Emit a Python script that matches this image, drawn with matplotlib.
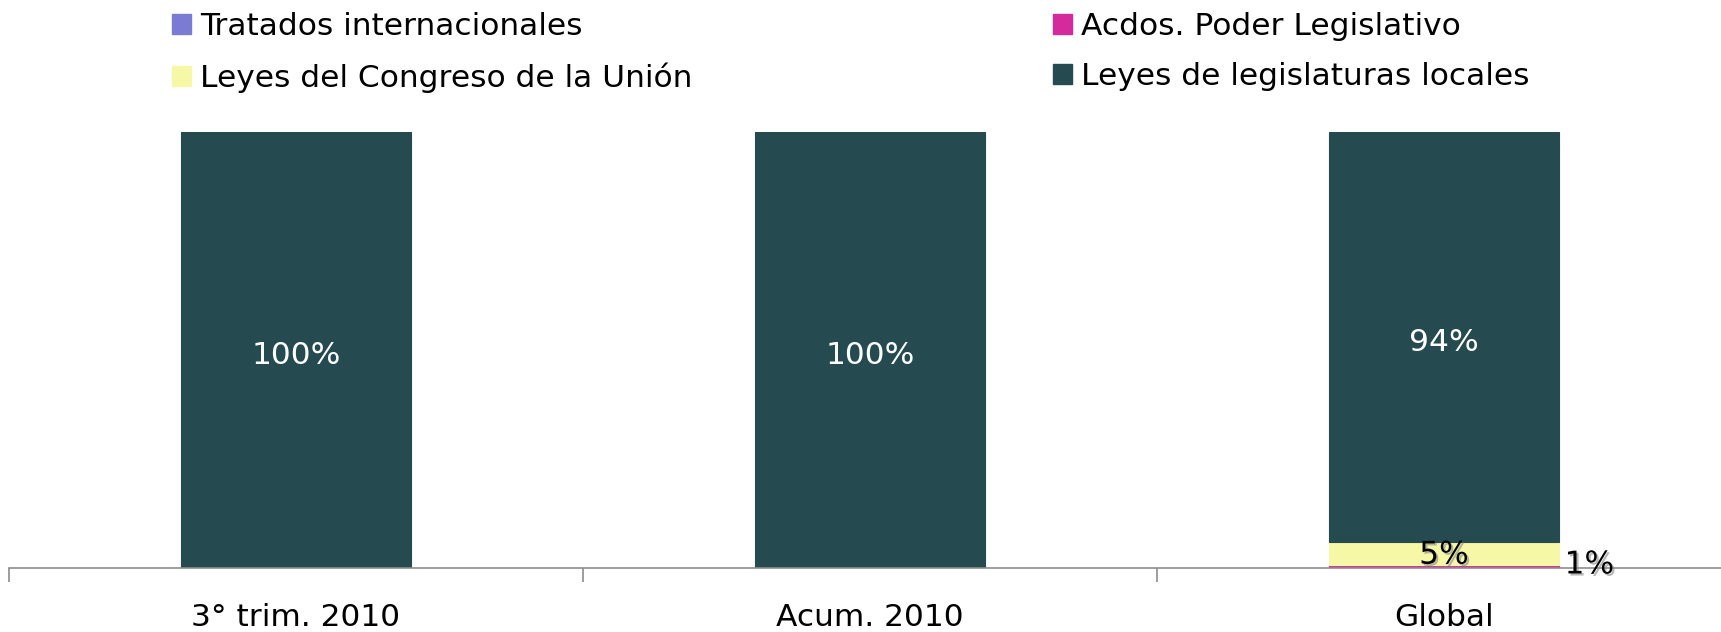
import numpy as np
import matplotlib.pyplot as plt
import matplotlib.patheffects as pe
from matplotlib.patches import Patch

# Datos (porcentajes por categoria)
categorias = ["3° trim. 2010", "Acum. 2010", "Global"]
series = ["Tratados internacionales", "Acdos. Poder Legislativo",
          "Leyes del Congreso de la Unión", "Leyes de legislaturas locales"]
tratados = [0.0, 0.0, 0.0]
acdos = [0.0, 0.0, 0.6]
congreso = [0.0, 0.0, 5.3]
locales = [100.0, 100.0, 94.1]

colores = ["#7B7BD3", "#D42A9C", "#F7F7A8", "#254B50"]

plt.rcParams['font.family'] = ['DejaVu Sans']
fs = 22.5

fig = plt.figure(figsize=(17.21, 6.32), dpi=100)
ax = fig.add_axes([9 / 1721, 64 / 632, 1722 / 1721, 436 / 632])

x = np.arange(len(categorias))
ancho = 0.4
valores = [tratados, acdos, congreso, locales]
base = np.zeros(len(categorias))
barras = []
for vals, col in zip(valores, colores):
    vals = np.array(vals)
    b = ax.bar(x, vals, ancho, bottom=base, color=col, edgecolor=col, linewidth=0.8,
               zorder=2)
    barras.append((b, vals, base.copy()))
    base = base + vals

sombra = [pe.withSimplePatchShadow(offset=(1.5, -1.5), shadow_rgbFace='#888888', alpha=0.6)]

# Etiquetas de datos
for (b, vals, bot), col in zip(barras, colores):
    for i, v in enumerate(vals):
        if v <= 0:
            continue
        txt = f"{round(v):.0f}%"
        if col == "#254B50":
            ax.text(x[i], bot[i] + v / 2 - 1.2, txt, ha='center', va='center', fontsize=fs,
                    color='white', zorder=4)
        elif col == "#F7F7A8":
            ax.text(x[i], bot[i] + v / 2 - 0.3, txt, ha='center', va='center', fontsize=fs,
                    color='black', zorder=4, path_effects=sombra)
        else:
            ax.text(x[i] + ancho / 2 + 0.01, bot[i] + v / 2 + 0.4, txt, ha='left',
                    va='center', fontsize=fs, color='black', zorder=4, path_effects=sombra)

ax.set_xlim(-0.5, 2.5)
ax.set_ylim(0, 100)
for s in ['top', 'right', 'left']:
    ax.spines[s].set_visible(False)
ax.spines['bottom'].set_color('#8C8C8C')
ax.spines['bottom'].set_linewidth(1.2)
ax.set_yticks([])

ax.set_xticks([-0.5, 0.5, 1.5, 2.5])
ax.set_xticklabels([])
ax.tick_params(axis='x', which='major', direction='out', length=10, color='#8C8C8C', width=1.2)
ax.set_xticks(x, minor=True)
ax.set_xticklabels(categorias, minor=True, fontsize=fs)
ax.tick_params(axis='x', which='minor', length=0, pad=25)

# Leyenda en dos columnas
h = [Patch(facecolor=c, edgecolor=c) for c in colores]
leg_kw = dict(fontsize=fs, frameon=False, loc='upper left', borderpad=0, borderaxespad=0,
              handlelength=0.6, handleheight=0.6, handletextpad=0.3, labelspacing=0.68)
fig.legend([h[0], h[2]], [series[0], series[2]], bbox_to_anchor=(172 / 1721, 1 - 12 / 632),
           **leg_kw)
fig.legend([h[1], h[3]], [series[1], series[3]], bbox_to_anchor=(1053 / 1721, 1 - 12 / 632),
           **leg_kw)

fig.savefig("out.png", dpi=100)
